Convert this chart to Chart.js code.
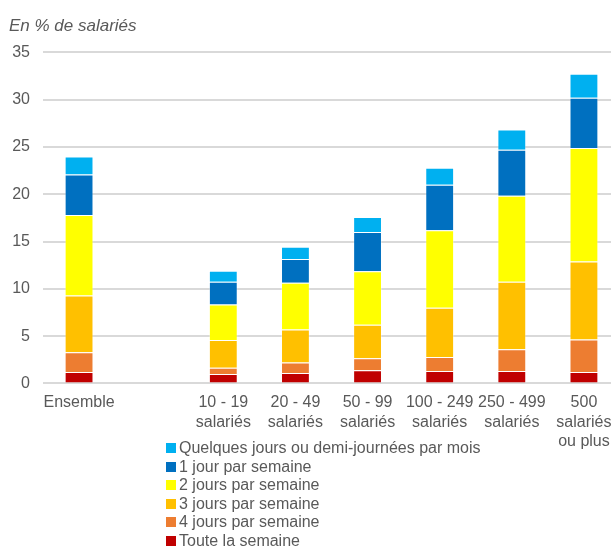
<!DOCTYPE html>
<html lang="fr">
<head>
<meta charset="utf-8">
<script src="https://cdn.jsdelivr.net/npm/chart.js@4/dist/chart.umd.min.js"></script>
<style>
  html, body { margin: 0; padding: 0; background: #fff; overflow: hidden; }
  #wrap { position: relative; width: 625px; height: 549px; }
  #legend {
    position: absolute; left: 166px; top: 439px;
    font-family: 'Liberation Sans', Arial, sans-serif; font-size: 16px;
    color: #595959; line-height: 18.5px; margin: 0; padding: 0; list-style: none;
  }
  #legend li { display: flex; align-items: center; white-space: nowrap; }
  #legend span.box { display: inline-block; width: 10px; height: 10px; margin-right: 3px; }
</style>
</head>
<body>
<div id="wrap">
  <canvas id="chart" width="625" height="549"></canvas>
  <ul id="legend"></ul>
</div>
<script>
// Company size classes (an empty slot separates the overall figure)
const categories = [
  'Ensemble',
  '',
  ['10 - 19', 'salariés'],
  ['20 - 49', 'salariés'],
  ['50 - 99', 'salariés'],
  ['100 - 249', 'salariés'],
  ['250 - 499', 'salariés'],
  ['500', 'salariés', 'ou plus']
];

// Share of employees (%) by telework frequency
const touteLaSemaine   = [1.2, null, 1.0, 1.1, 1.4, 1.3, 1.3, 1.2];
const quatreJours      = [2.1, null, 0.65, 1.1, 1.25, 1.5, 2.3, 3.45];
const troisJours       = [6.0, null, 2.95, 3.5, 3.55, 5.2, 7.15, 8.25];
const deuxJours        = [8.5, null, 3.75, 4.95, 5.65, 8.2, 9.1, 12.0];
const unJour           = [4.3, null, 2.4, 2.5, 4.15, 4.8, 4.85, 5.3];
const quelquesJours    = [1.9, null, 1.15, 1.3, 1.6, 1.8, 2.15, 2.55];

const yTicks = { min: 0, max: 35, step: 5 };

const seriesNames = [
  'Toute la semaine',
  '4 jours par semaine',
  '3 jours par semaine',
  '2 jours par semaine',
  '1 jour par semaine',
  'Quelques jours ou demi-journées par mois'
];
const seriesData = [touteLaSemaine, quatreJours, troisJours, deuxJours, unJour, quelquesJours];
const seriesColors = ['#C00000', '#ED7D31', '#FFC000', '#FFFF00', '#0070C0', '#00B0F0'];

Chart.defaults.font.family = "'Liberation Sans', Arial, sans-serif";
Chart.defaults.font.size = 16;
Chart.defaults.color = '#595959';

const chart = new Chart(document.getElementById('chart'), {
  type: 'bar',
  data: {
    labels: categories,
    datasets: seriesNames.map((name, i) => ({
      label: name,
      data: seriesData[i],
      backgroundColor: seriesColors[i],
      borderColor: 'rgba(255,255,255,0.3)',
      borderWidth: 1,
      barPercentage: 0.4,
      categoryPercentage: 1.0
    }))
  },
  options: {
    responsive: false,
    animation: false,
    layout: { padding: { left: 9, right: 5, top: 0, bottom: 88 } },
    plugins: {
      legend: { display: false },
      tooltip: { enabled: false },
      title: {
        display: true,
        text: 'En % de salariés',
        align: 'start',
        color: '#595959',
        font: { size: 17, style: 'italic', weight: 'normal' },
        padding: { top: 16, bottom: 16 }
      }
    },
    scales: {
      x: {
        stacked: true,
        grid: { display: false, drawTicks: false },
        border: { display: false },
        ticks: { padding: 10, maxRotation: 0, autoSkip: false, color: '#595959' }
      },
      y: {
        stacked: true,
        min: yTicks.min,
        max: yTicks.max,
        grid: { color: '#d9d9d9', lineWidth: 2, drawTicks: false },
        border: { display: false },
        ticks: { stepSize: yTicks.step, padding: 13, color: '#595959' },
        afterFit(scale) { scale.width = 34; }
      }
    }
  }
});

// Legend listed top-down, in the same order as the stack
const legendEl = document.getElementById('legend');
Chart.defaults.plugins.legend.labels.generateLabels(chart).reverse().forEach(item => {
  const li = document.createElement('li');
  const box = document.createElement('span');
  box.className = 'box';
  box.style.background = item.fillStyle;
  li.appendChild(box);
  li.appendChild(document.createTextNode(item.text));
  legendEl.appendChild(li);
});
</script>
</body>
</html>
